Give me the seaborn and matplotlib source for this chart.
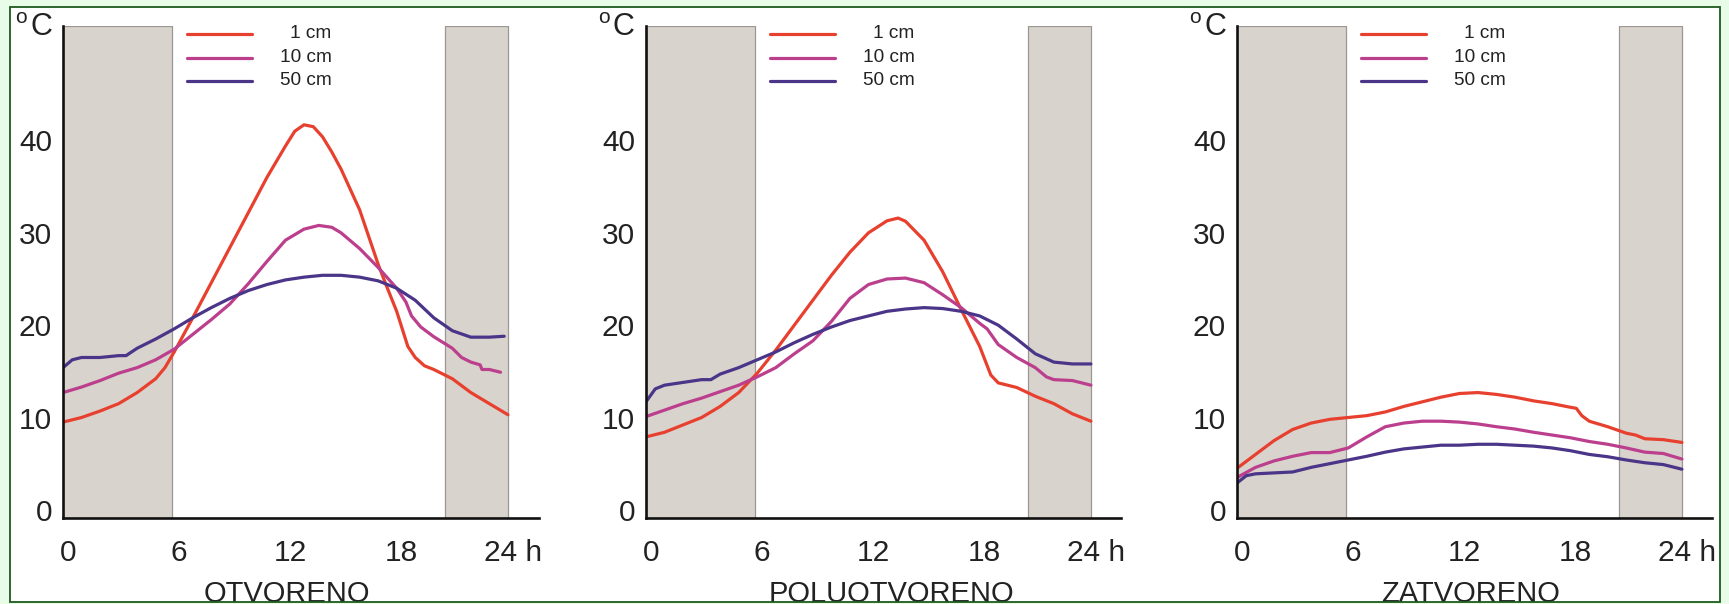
import matplotlib
matplotlib.use("Agg")
import matplotlib.pyplot as plt
import seaborn as sns
import pandas as pd
from matplotlib.patches import Rectangle
from matplotlib.transforms import ScaledTranslation

# ---------------- data ----------------
panel_titles = ["OTVORENO", "POLUOTVORENO", "ZATVORENO"]
depth_labels = ["1 cm", "10 cm", "50 cm"]
depth_colors = ["#e8402f", "#bb3f8c", "#4a3589"]
x_ticks = [0, 6, 12, 18, 24]
x_tick_labels = ["0", "6", "12", "18", "24 h"]
y_ticks = [0, 10, 20, 30, 40]
y_tick_labels = ["0", "10", "20", "30", "40"]
night_spans = [(0, 5.9), (20.6, 24)]

# OTVORENO
otv_1cm_h = [0, 1, 2, 3, 4, 5, 5.5, 6, 7, 8, 9, 10, 11, 11.5, 12, 12.5, 13, 13.5, 14, 14.5, 15, 16, 17, 17.4, 18, 18.6, 19, 19.5, 20, 21, 22, 23, 24]
otv_1cm_t = [9.5, 10, 10.7, 11.5, 12.7, 14.2, 15.4, 17.1, 20.8, 24.6, 28.4, 32.2, 36, 37.7, 39.4, 41, 41.7, 41.5, 40.4, 38.75, 36.9, 32.5, 26.6, 24.5, 21.5, 17.7, 16.5, 15.6, 15.2, 14.2, 12.7, 11.5, 10.3]
otv_10cm_h = [0, 1, 2, 3, 4, 5, 6, 7, 8, 9, 10, 11, 12, 13, 13.8, 14.5, 15, 16, 17, 18, 18.5, 18.8, 19.3, 20, 21, 21.5, 22, 22.5, 22.6, 23, 23.6]
otv_10cm_t = [12.7, 13.3, 14.0, 14.8, 15.4, 16.25, 17.4, 19, 20.6, 22.3, 24.5, 26.9, 29.2, 30.4, 30.8, 30.6, 30, 28.3, 26.25, 24, 22.5, 21, 19.8, 18.75, 17.5, 16.5, 16, 15.7, 15.2, 15.2, 14.9]
otv_50cm_h = [0, 0.5, 1, 2, 3, 3.4, 4, 5, 6, 7, 8, 9, 10, 11, 12, 13, 14, 15, 16, 17, 18, 19, 20, 21, 22, 23, 23.8]
otv_50cm_t = [15.4, 16.25, 16.5, 16.5, 16.7, 16.7, 17.5, 18.5, 19.6, 20.8, 21.9, 22.9, 23.75, 24.4, 24.9, 25.2, 25.4, 25.4, 25.2, 24.8, 24.0, 22.7, 20.8, 19.4, 18.7, 18.7, 18.8]

# POLUOTVORENO
pol_1cm_h = [0, 1, 2, 3, 4, 5, 6, 7, 8, 9, 10, 11, 12, 13, 13.6, 14, 15, 16, 17, 18, 18.6, 19, 19.5, 20, 21, 22, 23, 24]
pol_1cm_t = [7.9, 8.4, 9.2, 10, 11.2, 12.7, 14.8, 17.3, 20, 22.7, 25.4, 27.9, 30, 31.3, 31.6, 31.25, 29.2, 25.8, 21.7, 17.7, 14.6, 13.75, 13.5, 13.25, 12.3, 11.5, 10.4, 9.6]
pol_10cm_h = [0, 1, 2, 3, 4, 5, 6, 7, 8, 9, 10, 11, 12, 13, 14, 15, 16, 17, 18, 18.4, 19, 20, 21, 21.6, 22, 23, 24]
pol_10cm_t = [10.1, 10.8, 11.5, 12.1, 12.8, 13.5, 14.4, 15.4, 16.9, 18.3, 20.4, 22.9, 24.4, 25, 25.1, 24.6, 23.3, 21.9, 20.2, 19.6, 17.9, 16.5, 15.4, 14.4, 14.1, 14, 13.5]
pol_50cm_h = [0, 0.5, 1, 2, 3, 3.5, 4, 5, 6, 7, 8, 9, 10, 11, 12, 13, 14, 15, 16, 17, 18, 19, 20, 21, 22, 23, 24]
pol_50cm_t = [11.7, 13.1, 13.5, 13.8, 14.1, 14.1, 14.7, 15.4, 16.25, 17.1, 18.1, 19, 19.8, 20.5, 21, 21.5, 21.75, 21.9, 21.8, 21.5, 21, 20, 18.5, 16.9, 16, 15.8, 15.8]

# ZATVORENO
zat_1cm_h = [0, 1, 2, 3, 4, 5, 6, 7, 8, 9, 10, 11, 12, 13, 14, 15, 16, 17, 18, 18.3, 18.6, 19, 20, 21, 21.5, 22, 23, 24]
zat_1cm_t = [4.5, 6, 7.5, 8.7, 9.4, 9.8, 10, 10.2, 10.6, 11.2, 11.7, 12.2, 12.6, 12.7, 12.5, 12.2, 11.8, 11.5, 11.1, 11, 10.2, 9.6, 9, 8.3, 8.1, 7.7, 7.6, 7.3]
zat_10cm_h = [0, 1, 2, 3, 4, 5, 6, 7, 8, 9, 10, 11, 12, 13, 14, 15, 16, 17, 18, 19, 20, 21, 22, 23, 24]
zat_10cm_t = [3.5, 4.6, 5.3, 5.8, 6.2, 6.2, 6.7, 7.9, 9, 9.4, 9.6, 9.6, 9.5, 9.3, 9, 8.75, 8.4, 8.1, 7.8, 7.4, 7.1, 6.7, 6.25, 6.1, 5.5]
zat_50cm_h = [0, 0.5, 1, 2, 3, 4, 5, 6, 7, 8, 9, 10, 11, 12, 13, 14, 15, 16, 17, 18, 19, 20, 21, 22, 23, 24]
zat_50cm_t = [2.9, 3.7, 3.9, 4, 4.1, 4.6, 5, 5.4, 5.8, 6.25, 6.6, 6.8, 7, 7, 7.1, 7.1, 7, 6.9, 6.7, 6.4, 6, 5.75, 5.4, 5.1, 4.9, 4.4]

panels = [
    [(otv_1cm_h, otv_1cm_t), (otv_10cm_h, otv_10cm_t), (otv_50cm_h, otv_50cm_t)],
    [(pol_1cm_h, pol_1cm_t), (pol_10cm_h, pol_10cm_t), (pol_50cm_h, pol_50cm_t)],
    [(zat_1cm_h, zat_1cm_t), (zat_10cm_h, zat_10cm_t), (zat_50cm_h, zat_50cm_t)],
]

# ---------------- style ----------------
sns.set_style("white")
plt.rcParams["font.family"] = ["Liberation Sans", "DejaVu Sans"]
TXT = "#222222"

W, H = 1729, 604
fig = plt.figure(figsize=(W / 100, H / 100), dpi=100)
fig.patch.set_facecolor("#e8fce8")
fig.patches.append(Rectangle((9.5 / W, 2 / H), 1710.5 / W, 595 / H, transform=fig.transFigure,
                             facecolor="white", edgecolor="none", zorder=-10))
fig.patches.append(Rectangle((9.5 / W, 2 / H), 1710.5 / W, 595 / H, transform=fig.transFigure,
                             fill=False, edgecolor="#1e5b1e", linewidth=1.3, zorder=20))

axes_left_px = [63, 646, 1237]
title_center_px = [287, 891, 1471]
ax_w_px, ax_bottom_px, ax_top_px = 475.5, 517.5, 26

for i, left in enumerate(axes_left_px):
    ax = fig.add_axes([left / W, (H - ax_bottom_px) / H, ax_w_px / W, (ax_bottom_px - ax_top_px) / H])
    ax.set_facecolor("white")
    for (a, b) in night_spans:
        ax.axvspan(a, b, ymin=0, ymax=1, facecolor="#d9d3ce", edgecolor="#9c9794", linewidth=0.9, zorder=0)
    for (hh, tt), col, lab in zip(panels[i], depth_colors, depth_labels):
        df = pd.DataFrame({"h": hh, "t": tt})
        sns.lineplot(data=df, x="h", y="t", color=col, linewidth=2.3, ax=ax, legend=False, zorder=3)
    ax.set_xlim(0, 25.65)
    ax.set_ylim(-0.83, 52.4)
    ax.set_xticks(x_ticks)
    ax.set_xticklabels(x_tick_labels)
    ax.set_yticks(y_ticks)
    ax.set_yticklabels(y_tick_labels)
    ax.set_xlabel("")
    ax.set_ylabel("")
    ax.tick_params(axis="both", length=0, labelsize=21.5, labelcolor=TXT)
    ax.tick_params(axis="x", pad=15.5)
    ax.tick_params(axis="y", pad=8)
    for tk in ax.xaxis.get_major_ticks():
        tk.label1.set_transform(tk.label1.get_transform() + ScaledTranslation(5 / 100, 0, fig.dpi_scale_trans))
    for s in ["top", "right"]:
        ax.spines[s].set_visible(False)
    for s in ["left", "bottom"]:
        ax.spines[s].set_linewidth(1.9)
        ax.spines[s].set_color("#111111")
        ax.spines[s].set_zorder(4)

    # legend (manual, in axes fraction)
    h_px = ax_bottom_px - ax_top_px
    for y_px, col, lab in zip([34, 57.5, 80.5], depth_colors, depth_labels):
        yf = (ax_bottom_px - y_px) / h_px
        ax.plot([123.7 / ax_w_px, 188.7 / ax_w_px], [yf, yf], color=col, linewidth=2.3,
                transform=ax.transAxes, clip_on=False, zorder=5)
        ax.text(268.7 / ax_w_px, yf, lab, transform=ax.transAxes, ha="right", va="center",
                fontsize=13.7, color=TXT)

    # unit label
    fig.text((left - 33) / W, (H - 35) / H, "C", fontsize=22, ha="left", va="baseline", color=TXT)
    fig.text((left - 47.5) / W, (H - 23) / H, "o", fontsize=15, ha="left", va="baseline", color=TXT)

    # panel title (below)
    fig.text(title_center_px[i] / W, (H - 602.5) / H, panel_titles[i], fontsize=21,
             ha="center", va="baseline", color=TXT)

fig.savefig("out.png", dpi=100, facecolor=fig.get_facecolor())
